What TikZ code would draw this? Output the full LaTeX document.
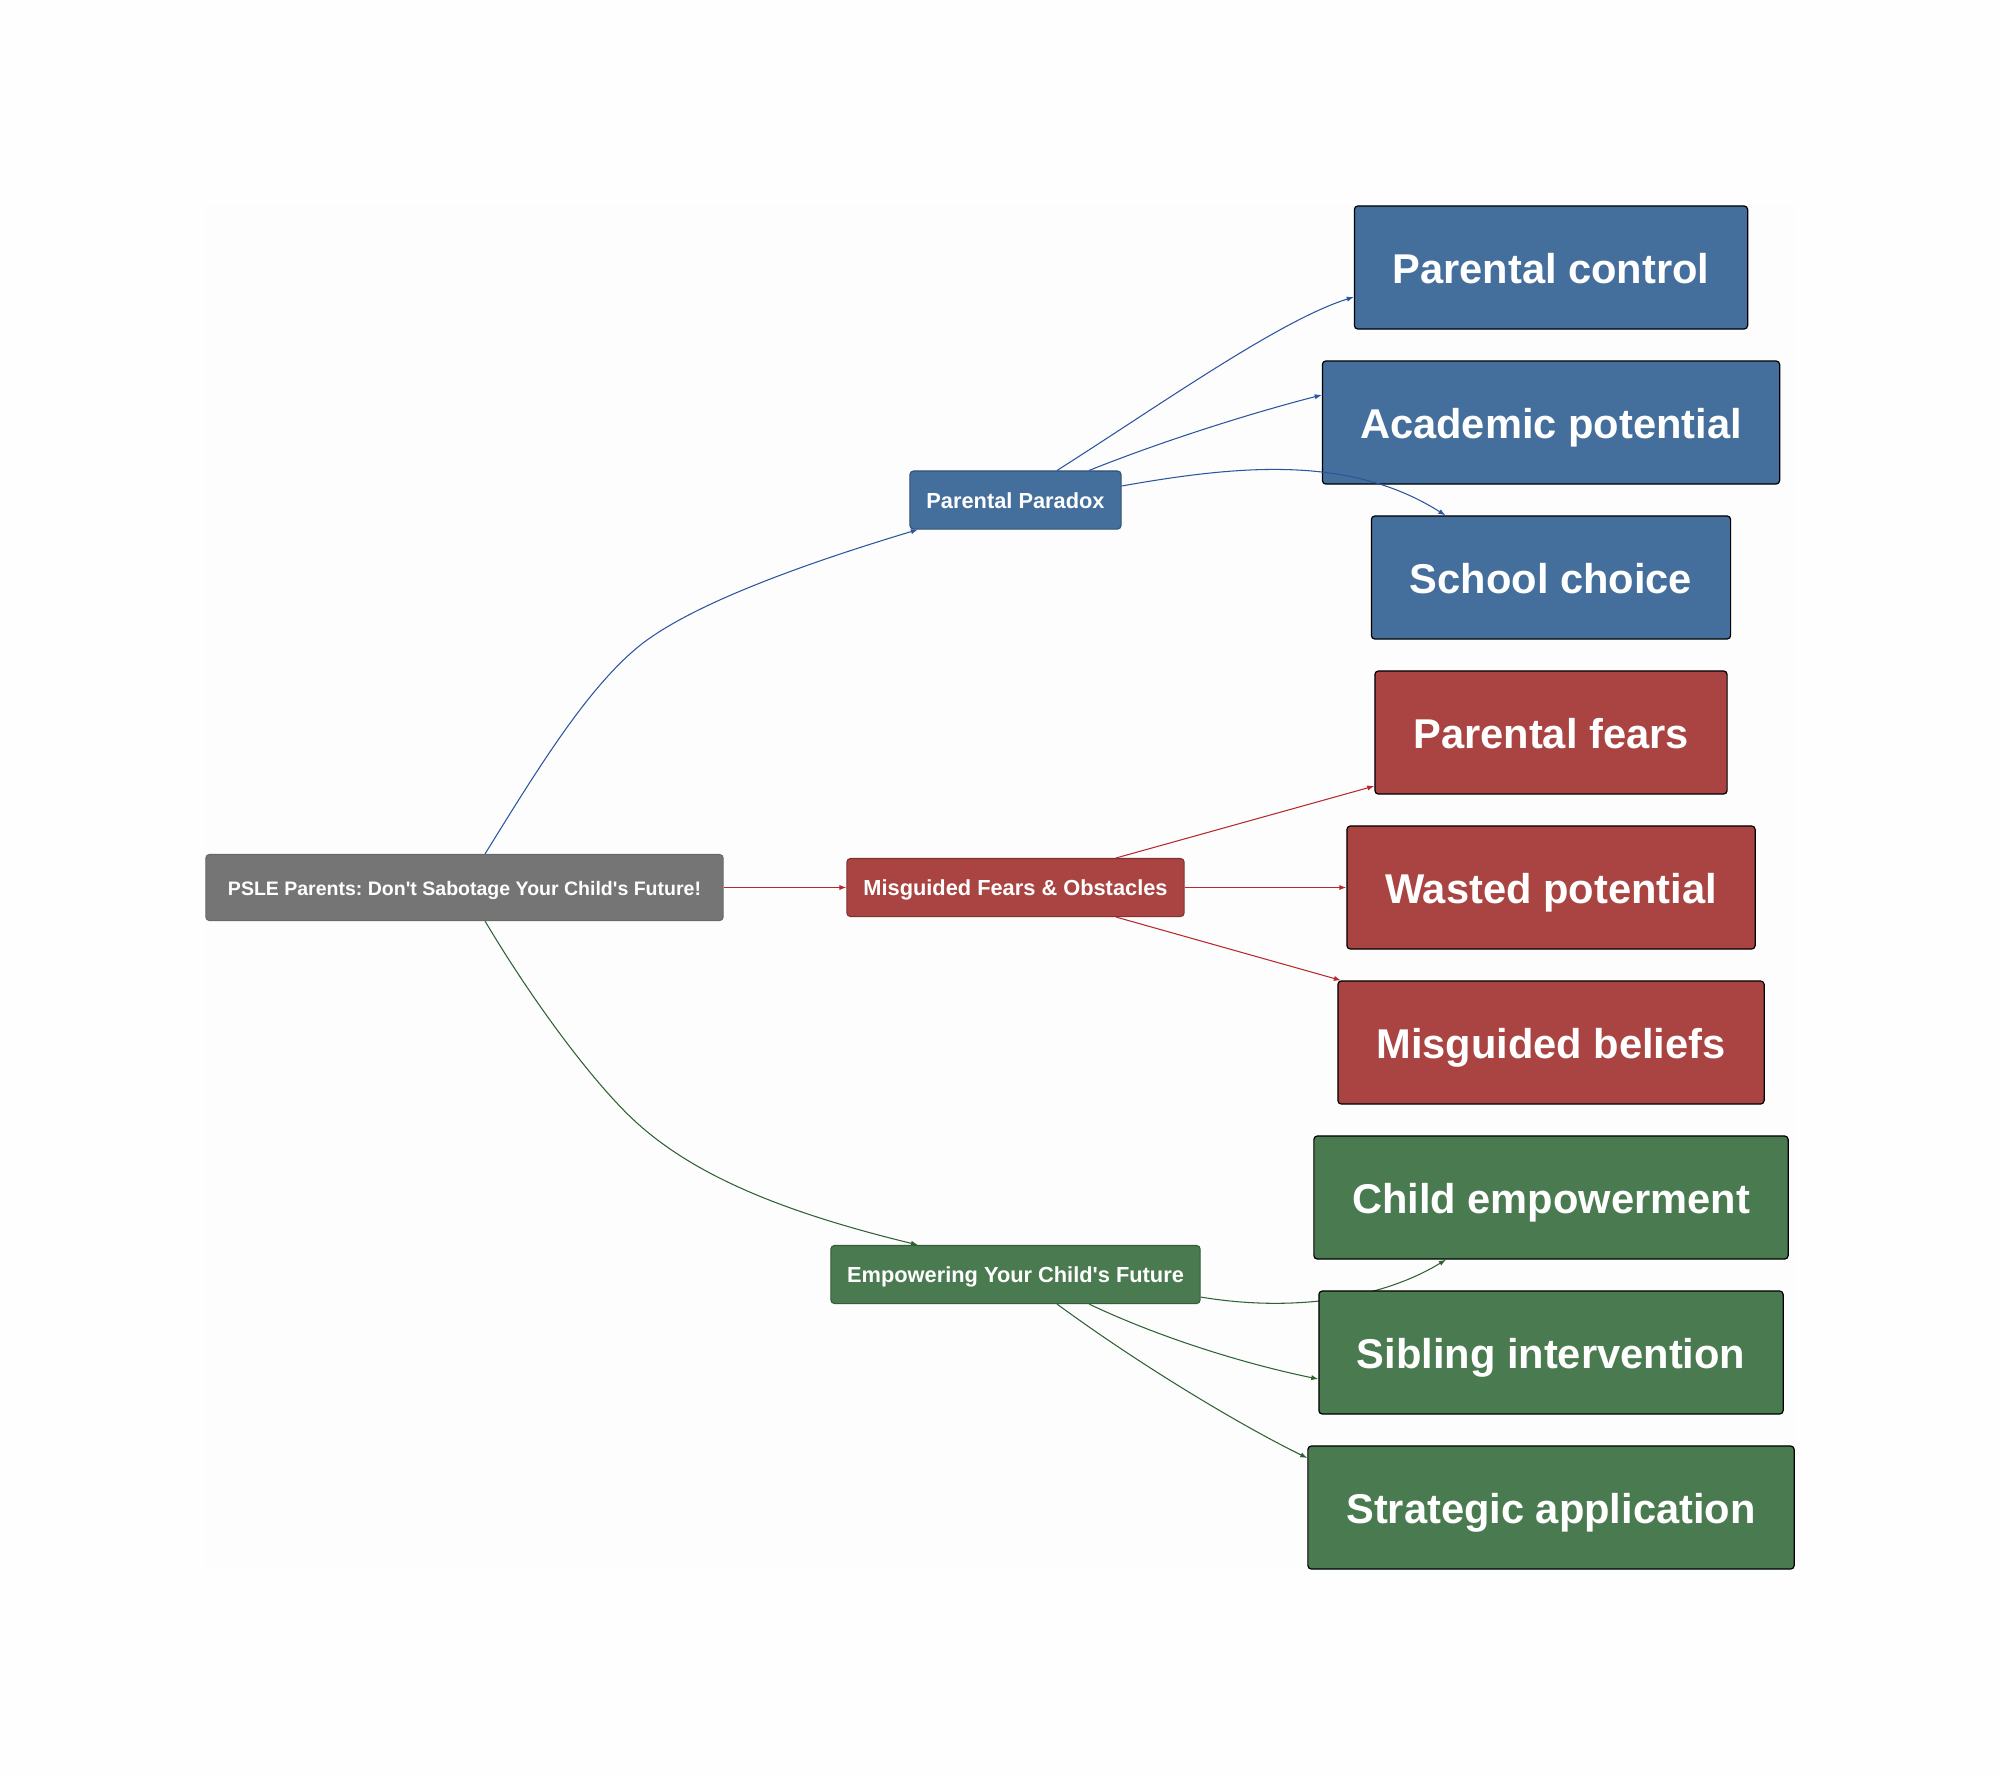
\documentclass[tikz,border=0pt]{standalone}
\usepackage{fontspec}
\setmainfont{Liberation Sans}[Ligatures=TeXOff]
\frenchspacing
\usetikzlibrary{arrows.meta}
\definecolor{blueFill}{HTML}{446E9B}
\definecolor{redFill}{HTML}{A94442}
\definecolor{greenFill}{HTML}{4A7A4F}
\definecolor{greyFill}{HTML}{757575}
\definecolor{blueLine}{HTML}{2A55A0}
\definecolor{redLine}{HTML}{B8282F}
\definecolor{greenLine}{HTML}{2F6133}
\definecolor{backFill}{HTML}{FDFDFD}
\definecolor{outerFill}{HTML}{FEFEFE}
\tikzset{
	box/.style={rectangle,rounded corners=1pt,inner sep=0pt,text=white,align=center},
	rootbox/.style={box,fill=greyFill,draw=greyFill!90!black,line width=0.3pt,font=\fontsize{5.55pt}{7pt}\selectfont\bfseries,text height=5.6pt,text depth=1.05pt,minimum height=0.66cm},
	midbox/.style={box,fill=#1,draw=#1!75!black,line width=0.3pt,font=\fontsize{6.2pt}{7.4pt}\selectfont\bfseries,text height=6pt,text depth=1.28pt,minimum height=0.58cm},
	leafbox/.style={box,fill=#1,draw=black,line width=0.35pt,font=\fontsize{11.84pt}{14pt}\selectfont\bfseries,text height=10.5pt,text depth=1.68pt,minimum height=1.23cm},
	link/.style={line width=0.3pt,-{Latex[length=2pt,width=1.5pt]}}
}
\begin{document}
\begin{tikzpicture}[x=0.01cm,y=-0.01cm]
	\useasboundingbox (0, 0) rectangle (2000, 1775);
	\fill [outerFill] (0, 0) rectangle (2000, 1775);
	\fill [backFill] (205, 205) rectangle (1795, 1570);

	\node [rootbox, minimum width=5.17cm] (root) at (464.5, 887.5) {PSLE Parents: Don't Sabotage Your Child's Future!};

	\node [midbox=blueFill, minimum width=2.11cm] (paradox) at (1015.5, 500) {Parental Paradox};
	\node [midbox=redFill, minimum width=3.37cm] (fears) at (1015.5, 887.5) {Misguided Fears \& Obstacles};
	\node [midbox=greenFill, minimum width=3.69cm] (empower) at (1015.5, 1274.5) {Empowering Your Child's Future};

	\node [leafbox=blueFill, minimum width=3.93cm] (control) at (1551, 267.5) {Parental control};
	\node [leafbox=blueFill, minimum width=4.57cm] (academic) at (1551, 422.5) {Academic potential};
	\node [leafbox=blueFill, minimum width=3.59cm] (school) at (1551, 577.5) {School choice};
	\node [leafbox=redFill, minimum width=3.52cm] (parfears) at (1551, 732.5) {Parental fears};
	\node [leafbox=redFill, minimum width=4.08cm] (wasted) at (1551, 887.5) {Wasted potential};
	\node [leafbox=redFill, minimum width=4.26cm] (beliefs) at (1551, 1042.5) {Misguided beliefs};
	\node [leafbox=greenFill, minimum width=4.74cm] (child) at (1551, 1197.5) {Child empowerment};
	\node [leafbox=greenFill, minimum width=4.86cm] (strategic) at (1551, 1507.5) {Strategic application};

	\draw [link, blueLine] ([xshift=0.205cm]root.north) .. controls (540, 765) and (590, 684) .. (643, 643) .. controls (695, 603.6) and (800, 565) .. ([xshift=-0.975cm]paradox.south);
	\draw [link, redLine] (root.east) -- (fears.west);
	\draw [link, greenLine] ([xshift=0.205cm]root.south) .. controls (535, 1005) and (596, 1086) .. (637, 1123) .. controls (700, 1180) and (795, 1215) .. ([xshift=-0.975cm]empower.north);

	\draw [link, blueLine] ([xshift=0.415cm]paradox.north) .. controls (1160, 405) and (1280, 320) .. ([yshift=-0.295cm]control.west);
	\draw [link, blueLine] ([xshift=0.735cm]paradox.north) .. controls (1165, 440) and (1255, 412) .. ([yshift=0.275cm]academic.west);
	\draw [link, blueLine] ([yshift=0.14cm]paradox.east) .. controls (1240, 465) and (1350, 455) .. ([xshift=-1.055cm]school.north);

	\draw [link, redLine] ([xshift=1.005cm]fears.north) -- ([yshift=-0.535cm]parfears.west);
	\draw [link, redLine] (fears.east) -- (wasted.west);
	\draw [link, redLine] ([xshift=1.005cm]fears.south) -- ([xshift=-2.1cm]beliefs.north);

	% this one runs behind the box below it
	\draw [link, greenLine] ([yshift=-0.225cm]empower.east) .. controls (1290, 1312) and (1380, 1300) .. ([xshift=-1.05cm]child.south);
	\node [leafbox=greenFill, minimum width=4.64cm] (sibling) at (1551, 1352.5) {Sibling intervention};
	\draw [link, greenLine] ([xshift=0.735cm]empower.south) .. controls (1165, 1340) and (1250, 1365) .. ([yshift=-0.265cm]sibling.west);
	\draw [link, greenLine] ([xshift=0.415cm]empower.south) .. controls (1140, 1365) and (1240, 1425) .. ([yshift=0.495cm]strategic.west);
\end{tikzpicture}
\end{document}
